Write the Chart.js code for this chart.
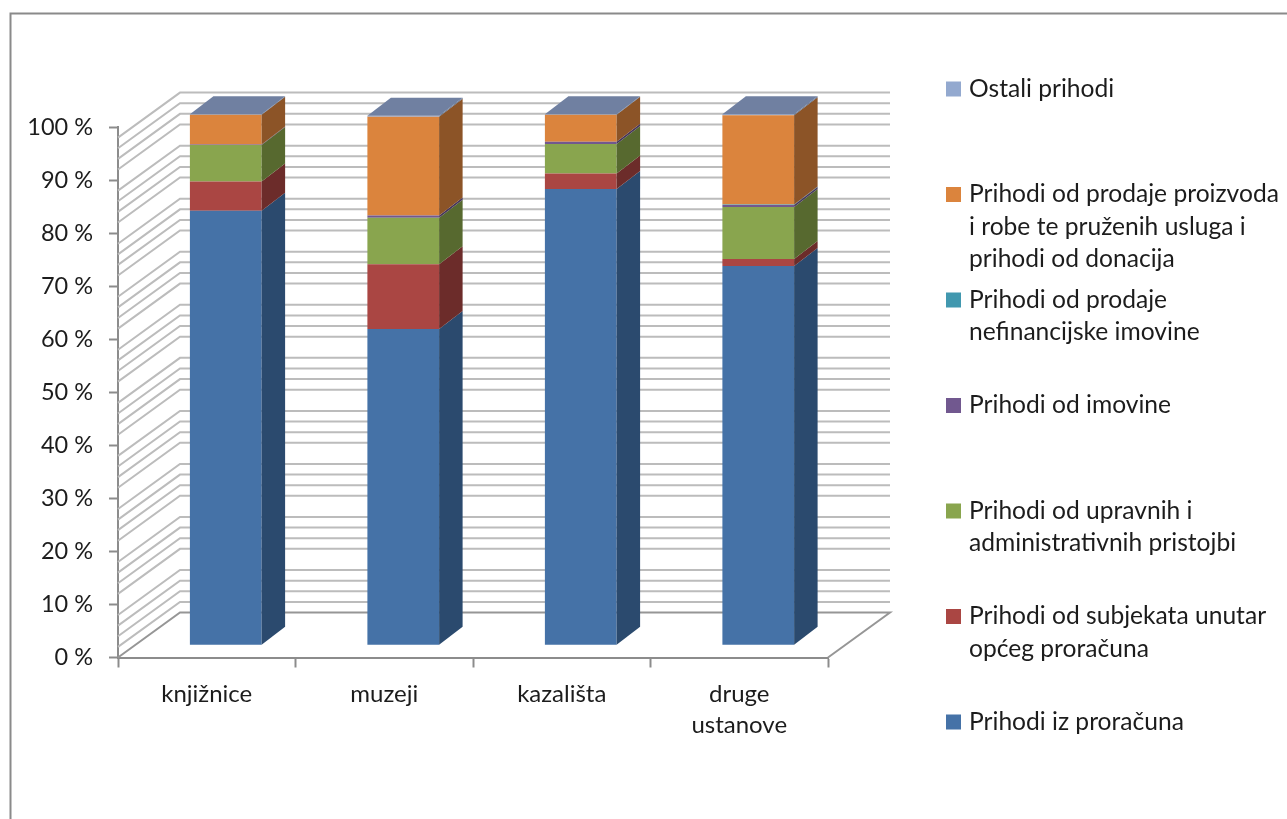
<!DOCTYPE html>
<html>
<head>
<meta charset="utf-8">
<style>
html,body{margin:0;padding:0;background:#fff;width:1287px;height:819px;overflow:hidden}
canvas{display:block;filter:blur(0.45px)}
</style>
<script src="https://cdn.jsdelivr.net/npm/chart.js@4/dist/chart.umd.min.js"></script>
</head>
<body>
<canvas id="c" width="1287" height="819"></canvas>
<script>
const categories = ["knjižnice", "muzeji", "kazališta", ["druge", "ustanove"]];
const prihodiIzProracuna = [81.8, 59.5, 85.9, 71.4];
const prihodiSubjekata = [5.5, 12.2, 2.9, 1.3];
const prihodiPristojbi = [6.9, 8.8, 5.6, 9.8];
const prihodiImovine = [0.1, 0.4, 0.4, 0.4];
const prihodiNefinancijske = [0, 0, 0, 0.1];
const prihodiProdaje = [5.6, 18.6, 5.1, 16.8];
const ostaliPrihodi = [0.1, 0.2, 0.1, 0.2];
const tickValues = [0, 10, 20, 30, 40, 50, 60, 70, 80, 90, 100];
const wallGridValues = [0,2,4,6,8,12,14,16,18,22,24,26,28,32,34,36,38,42,44,46,48,52,54,56,58,62,64,66,68,72,74,76,78,82,84,86,88,92,94,96,98];
const seriesLabels = [
  ["Prihodi iz proračuna"],
  ["Prihodi od subjekata unutar", "općeg proračuna"],
  ["Prihodi od upravnih i", "administrativnih pristojbi"],
  ["Prihodi od imovine"],
  ["Prihodi od prodaje", "nefinancijske imovine"],
  ["Prihodi od prodaje proizvoda", "i robe te pruženih usluga i", "prihodi od donacija"],
  ["Ostali prihodi"]
];
const seriesValues = [prihodiIzProracuna, prihodiSubjekata, prihodiPristojbi, prihodiImovine, prihodiNefinancijske, prihodiProdaje, ostaliPrihodi];
const seriesColors = ["#4572A7", "#AA4643", "#89A54E", "#71588F", "#4198AF", "#DB843D", "#93A9CF"];
const sideColors = ["#2B4A6E", "#6C2C2A", "#57692F", "#46365A", "#29606F", "#8C5427", "#5F6E88"];
const topColor = "#7080A1";

const FONT = "Lato, Carlito, sans-serif";
const TEXT = "#1c1c1c";
const AXIS = "#8c8c8c";
const WALL = {dx: 62, dy: -45};
const BAR = {dx: 19, dy: -12.8, depthX: 23.5, depthY: -18};
const LEGEND = {markerX: 946, marker: 15, textX: 969, firstY: 89, step: 105.5, lineH: 32.5, size: 24.6};

const poly = (ctx, pts, fill) => {
  ctx.beginPath();
  pts.forEach((p, i) => i ? ctx.lineTo(p[0], p[1]) : ctx.moveTo(p[0], p[1]));
  ctx.closePath();
  ctx.fillStyle = fill;
  ctx.fill();
};

const plugin3d = {
  id: "plugin3d",
  afterLayout(chart) {
    const xb = chart.scales.xBars, yb = chart.scales.yBars, x = chart.scales.x, y = chart.scales.y;
    xb.left = x.left + BAR.dx; xb.right = x.right + BAR.dx;
    yb.top = y.top + BAR.dy; yb.bottom = y.bottom + BAR.dy;
    xb.configure(); yb.configure();
  },
  beforeDatasetsDraw(chart) {
    const ctx = chart.ctx, x = chart.scales.x, y = chart.scales.y;
    ctx.save();
    ctx.lineJoin = "miter";
    const x0 = x.left, x1 = x.left + WALL.dx, x2 = x.right + WALL.dx;
    wallGridValues.forEach(v => {
      const py = y.getPixelForValue(v);
      ctx.beginPath();
      ctx.moveTo(x0, py);
      ctx.lineTo(x1, py + WALL.dy);
      ctx.lineTo(x2, py + WALL.dy);
      if (v === 0) { ctx.lineTo(x.right, py); ctx.strokeStyle = "#969696"; }
      else ctx.strokeStyle = "#bcbcbc";
      ctx.lineWidth = 2;
      ctx.stroke();
    });
    ctx.restore();
  },
  afterDatasetsDraw(chart) {
    const ctx = chart.ctx;
    ctx.save();
    const n = chart.data.datasets.length;
    for (let d = 0; d < n; d++) {
      chart.getDatasetMeta(d).data.forEach(el => {
        const p = el.getProps(["x", "y", "base", "width"], true);
        const r = p.x + p.width / 2;
        poly(ctx, [[r, p.base], [r + BAR.depthX, p.base + BAR.depthY], [r + BAR.depthX, p.y + BAR.depthY], [r, p.y]], sideColors[d]);
        if (d === n - 1) {
          const l = p.x - p.width / 2;
          poly(ctx, [[l, p.y], [l + BAR.depthX, p.y + BAR.depthY], [r + BAR.depthX, p.y + BAR.depthY], [r, p.y]], topColor);
        }
      });
    }
    ctx.restore();
  },
  afterDraw(chart) {
    const ctx = chart.ctx;
    ctx.save();
    // outer frame (top and left edges are what is visible)
    ctx.strokeStyle = "#8a8a8a";
    ctx.lineWidth = 2;
    ctx.beginPath();
    ctx.moveTo(10.5, 819);
    ctx.lineTo(10.5, 13.5);
    ctx.lineTo(1287, 13.5);
    ctx.stroke();
    // legend, top entry is the last series
    ctx.font = LEGEND.size + "px " + FONT;
    ctx.textBaseline = "middle";
    ctx.textAlign = "left";
    const n = chart.data.datasets.length;
    for (let i = 0; i < n; i++) {
      const d = n - 1 - i, cy = LEGEND.firstY + i * LEGEND.step;
      ctx.fillStyle = chart.data.datasets[d].backgroundColor;
      ctx.fillRect(LEGEND.markerX, cy - LEGEND.marker / 2, LEGEND.marker, LEGEND.marker);
      ctx.fillStyle = TEXT;
      seriesLabels[d].forEach((line, k) => ctx.fillText(line, LEGEND.textX, cy + k * LEGEND.lineH));
    }
    ctx.restore();
  }
};

new Chart(document.getElementById("c"), {
  type: "bar",
  data: {
    labels: categories,
    datasets: seriesValues.map((vals, i) => ({
      label: seriesLabels[i].join(" "),
      data: vals,
      backgroundColor: seriesColors[i],
      borderWidth: 0,
      xAxisID: "xBars",
      yAxisID: "yBars",
      categoryPercentage: 1,
      barPercentage: 0.404,
      clip: false
    }))
  },
  plugins: [plugin3d],
  options: {
    responsive: false,
    animation: false,
    devicePixelRatio: 1,
    layout: {padding: {top: 127, right: 459, bottom: 0, left: 0}},
    plugins: {legend: {display: false}, tooltip: {enabled: false}, title: {display: false}},
    scales: {
      x: {
        axis: "x", type: "category", position: "bottom", offset: true,
        afterFit(s) { s.height = 161.5; },
        border: {display: true, color: AXIS, width: 2},
        grid: {display: true, drawOnChartArea: false, drawTicks: true, tickLength: 10, tickColor: AXIS, tickWidth: 2, offset: true},
        ticks: {color: TEXT, font: {family: FONT, size: 24, lineHeight: 1.3}, padding: 11, maxRotation: 0, minRotation: 0, autoSkip: false}
      },
      y: {
        axis: "y", type: "linear", position: "left", min: 0, max: 100,
        afterFit(s) { s.width = 118; },
        afterBuildTicks(s) { s.ticks = tickValues.map(value => ({value})); },
        border: {display: true, color: AXIS, width: 2},
        grid: {display: true, drawOnChartArea: false, drawTicks: true, tickLength: 9, tickColor: AXIS, tickWidth: 2},
        ticks: {color: TEXT, font: {family: FONT, size: 23.5}, padding: 16, callback: v => v + " %"}
      },
      xBars: {axis: "x", type: "category", position: "bottom", display: false, stacked: true, offset: true, grid: {display: false}},
      yBars: {axis: "y", type: "linear", position: "left", display: false, stacked: true, min: 0, max: 100, grid: {display: false}}
    }
  }
});
</script>
</body>
</html>
